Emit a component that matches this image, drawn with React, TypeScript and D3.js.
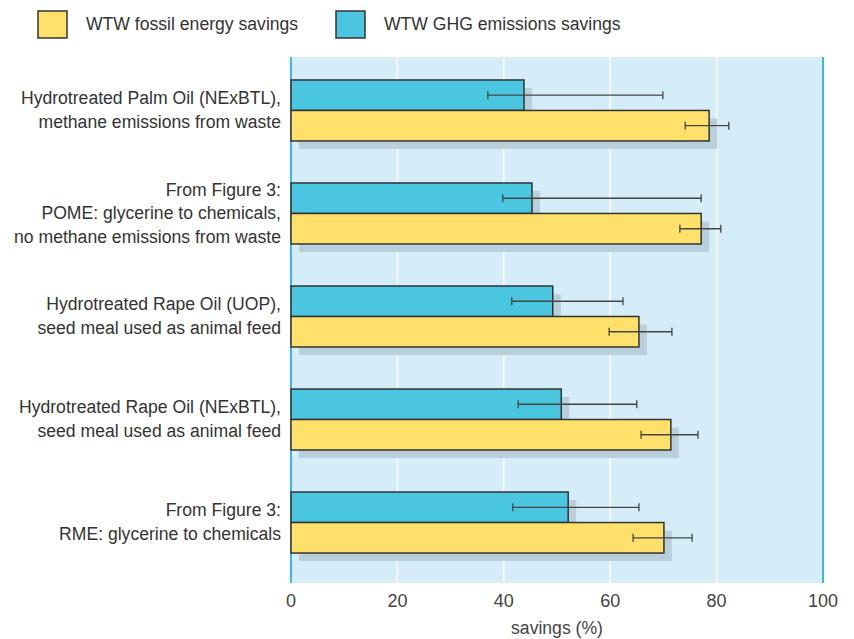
import { useEffect, useRef } from 'react'
import * as d3 from 'd3'

const categories = [
  ['Hydrotreated Palm Oil (NExBTL),', 'methane emissions from waste'],
  ['From Figure 3:', 'POME: glycerine to chemicals,', 'no methane emissions from waste'],
  ['Hydrotreated Rape Oil (UOP),', 'seed meal used as animal feed'],
  ['Hydrotreated Rape Oil (NExBTL),', 'seed meal used as animal feed'],
  ['From Figure 3:', 'RME: glycerine to chemicals'],
]

const ghgValues = [43.8, 45.3, 49.2, 50.8, 52.1]
const ghgLow = [37.0, 39.8, 41.5, 42.7, 41.7]
const ghgHigh = [69.9, 77.1, 62.4, 65.0, 65.4]

const fossilValues = [78.6, 77.1, 65.4, 71.4, 70.1]
const fossilLow = [74.1, 73.1, 59.8, 65.8, 64.3]
const fossilHigh = [82.3, 80.8, 71.6, 76.5, 75.4]

const xTicks = [0, 20, 40, 60, 80, 100]
const seriesNames = ['WTW fossil energy savings', 'WTW GHG emissions savings']

const YELLOW = '#fee06a'
const CYAN = '#4bc6e0'
const FONT = "'Liberation Sans', Arial, sans-serif"

export default function App() {
  const svgRef = useRef<SVGSVGElement>(null)

  useEffect(() => {
    if (!svgRef.current) return
    const svg = d3.select(svgRef.current)
    svg.selectAll('*').remove()

    const left = 291
    const right = 823
    const top = 57
    const bottom = 583

    const x = d3.scaleLinear().domain([0, 100]).range([left, right])
    // bands sit a little higher than the plot bottom, as in the original
    const y = d3.scaleBand<number>()
      .domain(d3.range(categories.length))
      .range([top, 576])
      .paddingInner(0.408)
      .paddingOuter(0.223)
    const half = y.bandwidth() / 2

    // Legend
    const legend = svg.append('g')
    const legendX = [38, 336]
    seriesNames.forEach((name, i) => {
      legend.append('rect')
        .attr('x', legendX[i]).attr('y', 11)
        .attr('width', 29).attr('height', 27)
        .attr('fill', i === 0 ? YELLOW : CYAN)
        .attr('stroke', '#333').attr('stroke-width', 1.5)
      legend.append('text')
        .attr('x', legendX[i] + 48).attr('y', 25)
        .attr('dominant-baseline', 'middle')
        .attr('font-family', FONT).attr('font-size', 17.6)
        .attr('fill', '#333')
        .text(name)
    })

    // Plot background
    svg.append('rect')
      .attr('x', left).attr('y', top)
      .attr('width', right - left).attr('height', bottom - top)
      .attr('fill', '#d5ecf9')

    // Grid lines
    svg.selectAll('.grid')
      .data(xTicks.slice(1, -1))
      .enter().append('line')
      .attr('x1', d => x(d)).attr('x2', d => x(d))
      .attr('y1', top).attr('y2', bottom)
      .attr('stroke', '#fff').attr('stroke-width', 1.5)

    // Edge lines
    ;[0, 100].forEach(v => {
      svg.append('line')
        .attr('x1', x(v)).attr('x2', x(v))
        .attr('y1', top).attr('y2', bottom)
        .attr('stroke', '#3db8e3').attr('stroke-width', 2)
    })

    const series = [
      { values: ghgValues, low: ghgLow, high: ghgHigh, color: CYAN, offset: 0 },
      { values: fossilValues, low: fossilLow, high: fossilHigh, color: YELLOW, offset: half },
    ]

    // Shadows
    series.forEach(s => {
      svg.selectAll(null)
        .data(s.values)
        .enter().append('rect')
        .attr('x', x(0) + 8)
        .attr('y', (_d, i) => (y(i) as number) + s.offset + 8)
        .attr('width', d => x(d) - x(0))
        .attr('height', half)
        .attr('fill', '#b9cfdb')
    })

    // Bars
    series.forEach(s => {
      svg.selectAll(null)
        .data(s.values)
        .enter().append('rect')
        .attr('x', x(0))
        .attr('y', (_d, i) => (y(i) as number) + s.offset)
        .attr('width', d => x(d) - x(0))
        .attr('height', half)
        .attr('fill', s.color)
        .attr('stroke', '#333')
        .attr('stroke-width', 1.5)
    })

    // Error bars
    series.forEach(s => {
      s.values.forEach((_v, i) => {
        const cy = (y(i) as number) + s.offset + half / 2
        const g = svg.append('g').attr('stroke', '#444').attr('stroke-width', 1.3)
        g.append('line').attr('x1', x(s.low[i])).attr('x2', x(s.high[i])).attr('y1', cy).attr('y2', cy)
        g.append('line').attr('x1', x(s.low[i])).attr('x2', x(s.low[i])).attr('y1', cy - 4).attr('y2', cy + 4)
        g.append('line').attr('x1', x(s.high[i])).attr('x2', x(s.high[i])).attr('y1', cy - 4).attr('y2', cy + 4)
      })
    })

    // Category labels
    categories.forEach((lines, i) => {
      const cy = (y(i) as number) + y.bandwidth() / 2 + 1
      const lh = 23.5
      const t = svg.append('text')
        .attr('text-anchor', 'end')
        .attr('font-family', FONT).attr('font-size', 17.6)
        .attr('fill', '#333')
      lines.forEach((line, j) => {
        t.append('tspan')
          .attr('x', 281)
          .attr('y', cy + (j - (lines.length - 1) / 2) * lh)
          .attr('dominant-baseline', 'middle')
          .text(line)
      })
    })

    // X axis tick labels
    svg.selectAll('.tick-label')
      .data(xTicks)
      .enter().append('text')
      .attr('x', d => x(d))
      .attr('y', 602)
      .attr('text-anchor', 'middle')
      .attr('dominant-baseline', 'middle')
      .attr('font-family', FONT).attr('font-size', 18)
      .attr('fill', '#444')
      .text(d => d)

    svg.append('text')
      .attr('x', x(50))
      .attr('y', 629)
      .attr('text-anchor', 'middle')
      .attr('dominant-baseline', 'middle')
      .attr('font-family', FONT).attr('font-size', 17.6)
      .attr('fill', '#444')
      .text('savings (%)')
  }, [])

  return (
    <svg
      ref={svgRef}
      width={854}
      height={639}
      style={{ position: 'absolute', left: 0, top: 0, background: '#fff' }}
    />
  )
}
